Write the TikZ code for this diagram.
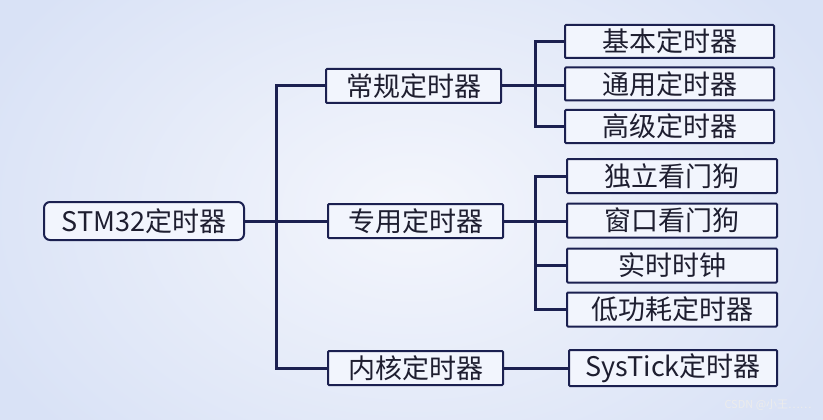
\documentclass[tikz,border=0pt]{standalone}
\usepackage{fontspec}
\setmainfont{Noto Sans CJK SC}
\begin{document}
\begin{tikzpicture}[x=1pt,y=-1pt,
  line/.style={draw=navy,line width=3pt},
  box/.style={draw=navy,line width=2pt,fill=boxfill,minimum height=34pt,inner sep=0pt,font=\fontsize{27}{30}\selectfont,text=txt,rounded corners=1pt},
]
\definecolor{navy}{HTML}{1B2050}
\definecolor{txt}{HTML}{1E1E30}
\definecolor{boxfill}{HTML}{F2F5FD}
\definecolor{bgout}{HTML}{D9E2F6}
\definecolor{bgin}{HTML}{F4F6FC}
\useasboundingbox (0,0) rectangle (823,420);
\shade[inner color=bgin,outer color=bgout] (-60,-120) rectangle (883,540);
% nodes
\node[box,minimum width=200pt,minimum height=38pt,rounded corners=6pt] (root) at (144,221) {STM32定时器};
\node[box,minimum width=175pt] (g1) at (413.5,86) {常规定时器};
\node[box,minimum width=175pt] (g2) at (415.5,221) {专用定时器};
\node[box,minimum width=175pt] (g3) at (415.5,368) {内核定时器};
\node[box,minimum width=209pt,minimum height=33pt] (a1) at (669.5,41.5) {基本定时器};
\node[box,minimum width=209pt,minimum height=33pt] (a2) at (669.5,84) {通用定时器};
\node[box,minimum width=209pt,minimum height=33pt] (a3) at (669.5,126.5) {高级定时器};
\node[box,minimum width=210pt] (b1) at (672,176) {独立看门狗};
\node[box,minimum width=210pt] (b2) at (672,220.5) {窗口看门狗};
\node[box,minimum width=210pt] (b3) at (672,265.5) {实时时钟};
\node[box,minimum width=210pt] (b4) at (672,309.5) {低功耗定时器};
\node[box,minimum width=208pt,minimum height=36pt] (c1) at (673,368) {SysTick定时器};
% connectors
\coordinate (t) at (276,221);
\draw[line] (root.east) -- (t);
\draw[line] (g1.west) -| (t);
\draw[line] (g3.west) -| (t);
\draw[line] (t) -- (g2.west);
\coordinate (s1) at (535,86);
\draw[line] (g1.east) -- (s1);
\draw[line] (a1.west) -| (s1);
\draw[line] (a3.west) -| (s1);
\draw[line] (s1) -- (a2.west |- s1);
\coordinate (s2) at (535,221);
\draw[line] (g2.east) -- (s2);
\draw[line] (b1.west) -| (s2);
\draw[line] (b4.west) -| (s2);
\draw[line] (s2) -- (b2.west |- s2);
\draw[line] (b3.west) -| (s2);
\draw[line] (g3.east) -- (c1.west);
% watermark
\node[text=white!85!gray,font=\fontsize{11}{12}\selectfont,anchor=east] (wm) at (815,405) {CSDN @小王……};
\end{tikzpicture}
\end{document}
